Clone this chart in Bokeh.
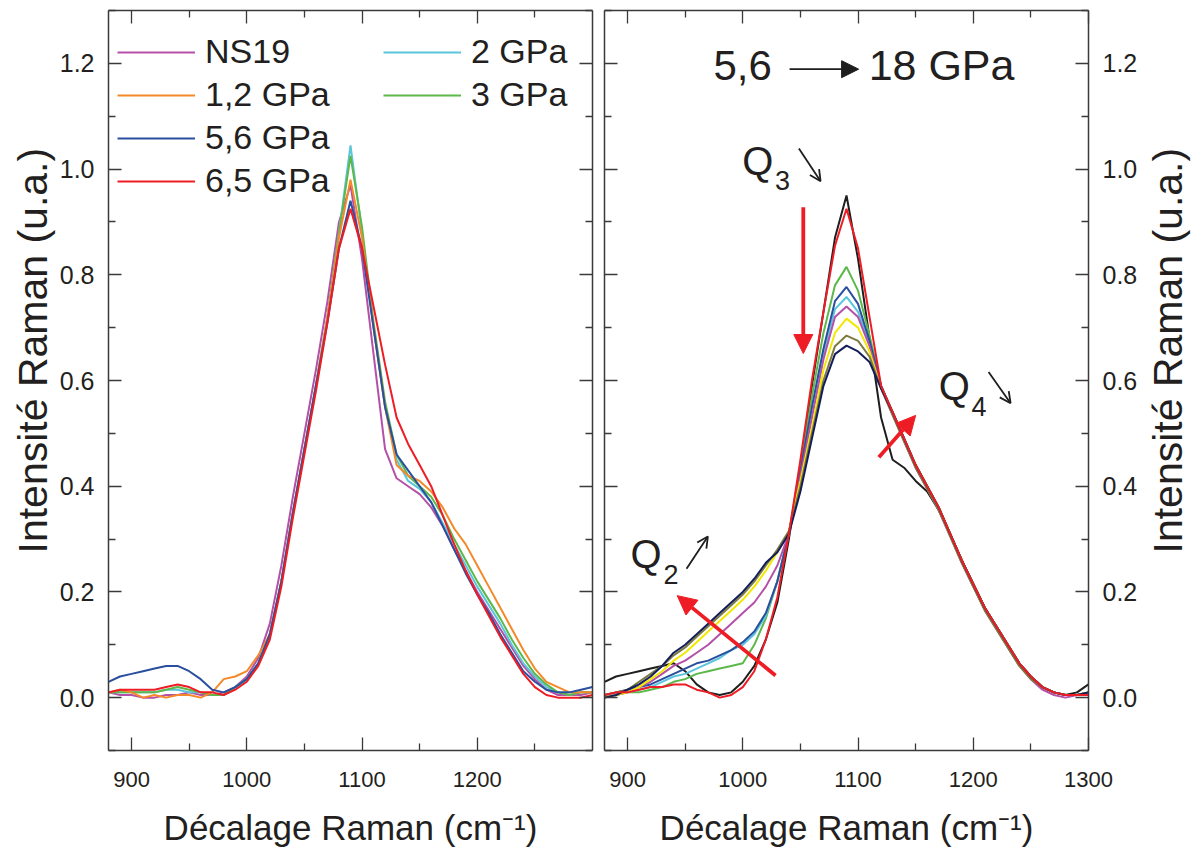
from bokeh.plotting import figure
from bokeh.layouts import row
from bokeh.models import (Range1d, FixedTicker, LinearAxis, Legend, LegendItem, Label, Title,
                          Arrow, NormalHead, OpenHead, PrintfTickFormatter, CustomLabelingPolicy)
from bokeh.embed import file_html
from bokeh.resources import INLINE

# ---------------- data ----------------
wavenumber = [880, 890, 900, 910, 920, 930, 940, 950, 960, 970,
              980, 990, 1000, 1010, 1020, 1030, 1040, 1050, 1060, 1070,
              1080, 1090, 1100, 1110, 1120, 1130, 1140, 1150, 1160, 1170,
              1180, 1190, 1200, 1210, 1220, 1230, 1240, 1250, 1260, 1270,
              1280, 1290, 1300]

# left panel
ns19 = [0.010, 0.005, 0.005, 0.000, 0.000, 0.005, 0.005, 0.010, 0.005, 0.005,
        0.010, 0.020, 0.040, 0.075, 0.140, 0.250, 0.380, 0.500, 0.620, 0.750,
        0.900, 0.970, 0.830, 0.650, 0.470, 0.415, 0.400, 0.385, 0.360, 0.325,
        0.280, 0.240, 0.200, 0.165, 0.130, 0.095, 0.060, 0.035, 0.015, 0.005,
        0.005, 0.005, 0.010]
gpa_1_2 = [0.010, 0.015, 0.010, 0.000, 0.005, 0.000, 0.005, 0.005, 0.000, 0.010,
           0.035, 0.040, 0.050, 0.080, 0.120, 0.220, 0.350, 0.470, 0.590, 0.720,
           0.870, 0.980, 0.870, 0.700, 0.550, 0.440, 0.420, 0.410, 0.390, 0.360,
           0.320, 0.290, 0.250, 0.210, 0.170, 0.130, 0.090, 0.055, 0.030, 0.020,
           0.010, 0.010, 0.010]
gpa_5_6 = [0.030, 0.040, 0.045, 0.050, 0.055, 0.060, 0.060, 0.050, 0.035, 0.015,
           0.010, 0.020, 0.035, 0.065, 0.120, 0.220, 0.350, 0.470, 0.590, 0.710,
           0.850, 0.940, 0.850, 0.700, 0.550, 0.460, 0.430, 0.400, 0.370, 0.325,
           0.280, 0.235, 0.195, 0.160, 0.120, 0.085, 0.050, 0.030, 0.015, 0.010,
           0.010, 0.015, 0.020]
gpa_6_5 = [0.010, 0.015, 0.015, 0.015, 0.015, 0.020, 0.025, 0.020, 0.010, 0.010,
           0.005, 0.015, 0.030, 0.060, 0.110, 0.210, 0.340, 0.460, 0.580, 0.710,
           0.850, 0.925, 0.850, 0.740, 0.630, 0.530, 0.480, 0.440, 0.400, 0.345,
           0.290, 0.240, 0.195, 0.155, 0.115, 0.080, 0.045, 0.020, 0.005, 0.000,
           0.000, 0.000, 0.005]
gpa_2 = [0.010, 0.010, 0.010, 0.010, 0.010, 0.015, 0.015, 0.010, 0.010, 0.005,
         0.005, 0.020, 0.035, 0.065, 0.120, 0.220, 0.350, 0.470, 0.590, 0.720,
         0.880, 1.045, 0.880, 0.700, 0.550, 0.450, 0.410, 0.395, 0.370, 0.330,
         0.290, 0.250, 0.210, 0.175, 0.140, 0.100, 0.065, 0.040, 0.020, 0.010,
         0.005, 0.010, 0.010]
gpa_3 = [0.010, 0.010, 0.010, 0.010, 0.010, 0.015, 0.020, 0.015, 0.010, 0.005,
         0.005, 0.020, 0.035, 0.065, 0.120, 0.220, 0.350, 0.470, 0.590, 0.720,
         0.880, 1.025, 0.890, 0.710, 0.560, 0.460, 0.420, 0.400, 0.380, 0.345,
         0.300, 0.260, 0.220, 0.185, 0.150, 0.110, 0.075, 0.045, 0.025, 0.010,
         0.005, 0.010, 0.010]

left_labels = ["NS19", "1,2 GPa", "5,6 GPa", "6,5 GPa", "2 GPa", "3 GPa"]

# right panel (5,6 -> 18 GPa series)
r_black = [0.030, 0.040, 0.045, 0.050, 0.055, 0.060, 0.065, 0.050, 0.025, 0.010,
           0.005, 0.010, 0.030, 0.060, 0.110, 0.180, 0.300, 0.440, 0.590, 0.730,
           0.870, 0.950, 0.830, 0.680, 0.530, 0.450, 0.435, 0.410, 0.390, 0.355,
           0.310, 0.260, 0.215, 0.170, 0.135, 0.100, 0.065, 0.040, 0.020, 0.010,
           0.005, 0.010, 0.025]
r_red = [0.005, 0.010, 0.010, 0.015, 0.020, 0.020, 0.025, 0.025, 0.015, 0.010,
         0.000, 0.005, 0.020, 0.050, 0.110, 0.190, 0.310, 0.450, 0.600, 0.730,
         0.855, 0.925, 0.850, 0.720, 0.590, 0.540, 0.490, 0.440, 0.400, 0.360,
         0.310, 0.260, 0.215, 0.170, 0.135, 0.100, 0.065, 0.040, 0.020, 0.010,
         0.005, 0.005, 0.005]
r_green = [0.000, 0.005, 0.010, 0.010, 0.015, 0.020, 0.030, 0.035, 0.045, 0.050,
           0.055, 0.060, 0.065, 0.100, 0.150, 0.220, 0.310, 0.440, 0.570, 0.690,
           0.780, 0.815, 0.770, 0.685, 0.590, 0.540, 0.490, 0.440, 0.400, 0.360,
           0.310, 0.260, 0.215, 0.170, 0.135, 0.100, 0.065, 0.040, 0.020, 0.010,
           0.005, 0.005, 0.010]
r_blue = [0.005, 0.010, 0.015, 0.020, 0.025, 0.035, 0.045, 0.055, 0.065, 0.070,
          0.080, 0.090, 0.105, 0.125, 0.160, 0.220, 0.310, 0.430, 0.550, 0.660,
          0.750, 0.777, 0.745, 0.675, 0.590, 0.540, 0.490, 0.440, 0.400, 0.360,
          0.310, 0.260, 0.215, 0.170, 0.135, 0.100, 0.065, 0.040, 0.020, 0.010,
          0.005, 0.005, 0.010]
r_cyan = [0.000, 0.005, 0.010, 0.015, 0.020, 0.030, 0.040, 0.045, 0.055, 0.065,
          0.075, 0.090, 0.100, 0.120, 0.155, 0.220, 0.310, 0.425, 0.540, 0.650,
          0.735, 0.758, 0.730, 0.670, 0.590, 0.540, 0.490, 0.440, 0.400, 0.360,
          0.310, 0.260, 0.215, 0.170, 0.135, 0.100, 0.065, 0.040, 0.020, 0.010,
          0.005, 0.005, 0.010]
r_magenta = [0.000, 0.005, 0.010, 0.020, 0.030, 0.045, 0.060, 0.070, 0.085, 0.100,
             0.120, 0.140, 0.160, 0.180, 0.210, 0.250, 0.310, 0.420, 0.530, 0.640,
             0.720, 0.740, 0.720, 0.665, 0.585, 0.535, 0.485, 0.435, 0.395, 0.355,
             0.305, 0.255, 0.210, 0.165, 0.130, 0.095, 0.060, 0.035, 0.015, 0.005,
             0.000, 0.005, 0.005]
r_yellow = [0.000, 0.005, 0.010, 0.020, 0.035, 0.050, 0.070, 0.085, 0.105, 0.125,
            0.145, 0.165, 0.185, 0.210, 0.240, 0.275, 0.315, 0.410, 0.510, 0.620,
            0.690, 0.717, 0.700, 0.655, 0.585, 0.540, 0.490, 0.440, 0.400, 0.360,
            0.310, 0.260, 0.215, 0.170, 0.135, 0.100, 0.065, 0.040, 0.020, 0.010,
            0.005, 0.005, 0.010]
r_olive = [0.005, 0.010, 0.015, 0.030, 0.045, 0.060, 0.080, 0.095, 0.115, 0.135,
           0.155, 0.175, 0.195, 0.220, 0.250, 0.280, 0.315, 0.400, 0.500, 0.600,
           0.665, 0.685, 0.675, 0.645, 0.585, 0.535, 0.485, 0.435, 0.395, 0.355,
           0.305, 0.255, 0.210, 0.165, 0.130, 0.095, 0.060, 0.035, 0.020, 0.010,
           0.005, 0.005, 0.010]
r_navy = [0.000, 0.005, 0.015, 0.025, 0.040, 0.060, 0.085, 0.100, 0.120, 0.140,
          0.160, 0.180, 0.200, 0.225, 0.255, 0.275, 0.310, 0.390, 0.490, 0.590,
          0.650, 0.666, 0.655, 0.635, 0.585, 0.540, 0.490, 0.440, 0.400, 0.360,
          0.310, 0.260, 0.215, 0.170, 0.135, 0.100, 0.065, 0.040, 0.020, 0.010,
          0.005, 0.005, 0.010]

y_ticks = [0.0, 0.2, 0.4, 0.6, 0.8, 1.0, 1.2]
y_minor = [-0.1, 0.1, 0.3, 0.5, 0.7, 0.9, 1.1, 1.3]
x_ticks_left = [900, 1000, 1100, 1200]
x_ticks_right = [900, 1000, 1100, 1200, 1300]
x_minor = [950, 1050, 1150, 1250]

Y_TITLE = "Intensité Raman (u.a.)"
X_TITLE = "Décalage Raman (cm⁻¹)"

# ---------------- styling ----------------
FONT = "Liberation Sans"
AX = "#3a3a3a"
TXT = "#231F20"
C_MAG = "#B550A8"
C_ORA = "#F5892A"
C_BLU = "#2A4F9E"
C_RED = "#EE1C24"
C_CYA = "#5BC5DC"
C_GRE = "#5DB84A"
C_BLK = "#1E1E1E"
C_YEL = "#F2E800"
C_OLI = "#7D7A40"
C_NAV = "#141D5C"
H = 853
TOP, BOTTOM = 10, 103


def hide_labels(ax):
    ax.major_label_text_font_size = "0px"
    ax.major_label_standoff = 0
    ax.major_label_policy = CustomLabelingPolicy(code="return []")


def style_axis(ax, labels=True):
    ax.major_tick_in = 13
    ax.major_tick_out = 0
    ax.minor_tick_in = 7
    ax.minor_tick_out = 0
    ax.axis_line_color = AX
    ax.axis_line_width = 1.5
    ax.major_tick_line_color = AX
    ax.major_tick_line_width = 1.3
    ax.minor_tick_line_color = AX
    ax.minor_tick_line_width = 1.3
    ax.major_label_text_font = FONT
    ax.major_label_text_color = TXT
    ax.axis_label_text_font = FONT
    ax.axis_label_text_font_style = "normal"
    ax.axis_label_text_color = TXT
    if not labels:
        hide_labels(ax)


def make_fig(width, left_border, right_border, yloc):
    p = figure(width=width, height=H, x_range=Range1d(880, 1300), y_range=Range1d(-0.1, 1.3),
               output_backend="svg", toolbar_location=None, y_axis_location=yloc,
               min_border_left=left_border, min_border_right=right_border,
               min_border_top=TOP, min_border_bottom=BOTTOM)
    p.xgrid.visible = False
    p.ygrid.visible = False
    p.outline_line_color = None
    p.background_fill_color = "white"
    return p


def title_strip(border_left):
    # narrow strip carrying only the vertical title (reads bottom to top)
    p = figure(width=border_left + 1, height=H, x_range=Range1d(0, 1), y_range=Range1d(0, 1),
               output_backend="svg", toolbar_location=None, x_axis_location=None,
               y_axis_location=None,
               min_border_left=border_left, min_border_right=0,
               min_border_top=TOP, min_border_bottom=BOTTOM)
    p.xgrid.visible = False
    p.ygrid.visible = False
    p.outline_line_color = None
    t = Title(text=Y_TITLE, align="left", offset=197, vertical_align="bottom", standoff=0,
              text_font=FONT, text_font_style="normal", text_font_size="41px", text_color=TXT)
    p.add_layout(t, "left")
    return p


def setup_axes(p, xticks, ylabel_side):
    xa = p.xaxis[0]
    xa.ticker = FixedTicker(ticks=xticks, minor_ticks=x_minor)
    style_axis(xa)
    xa.major_label_text_font_size = "22px"
    xa.major_label_standoff = 21
    xa.axis_label = X_TITLE
    xa.axis_label_text_font_size = "35px"
    xa.axis_label_standoff = 18

    ya = p.yaxis[0]
    ya.ticker = FixedTicker(ticks=y_ticks, minor_ticks=y_minor)
    ya.formatter = PrintfTickFormatter(format="%.1f")
    style_axis(ya)
    ya.major_label_text_font_size = "25px"
    ya.major_label_standoff = 14

    top = LinearAxis(ticker=FixedTicker(ticks=xticks, minor_ticks=x_minor))
    style_axis(top, labels=False)
    p.add_layout(top, "above")
    other = LinearAxis(ticker=FixedTicker(ticks=y_ticks, minor_ticks=y_minor))
    style_axis(other, labels=False)
    p.add_layout(other, "right" if ylabel_side == "left" else "left")


# ---------------- title strips ----------------
p0 = title_strip(55)     # left title
p3 = title_strip(50)     # right title

# ---------------- left panel ----------------
p1 = make_fig(52 + 484 + 6, 52, 6, "left")
setup_axes(p1, x_ticks_left, "left")

left_series = [ns19, gpa_1_2, gpa_5_6, gpa_6_5, gpa_2, gpa_3]
left_colors = [C_MAG, C_ORA, C_BLU, C_RED, C_CYA, C_GRE]
draw_order = [0, 4, 5, 1, 2, 3]
renderers = {}
for i in draw_order:
    renderers[i] = p1.line(wavenumber, left_series[i], line_color=left_colors[i], line_width=2)


def make_legend(idx, loc):
    lg = Legend(items=[LegendItem(label=left_labels[i], renderers=[renderers[i]]) for i in idx],
                location=loc)
    lg.label_text_font = FONT
    lg.label_text_font_size = "34px"
    lg.label_text_color = TXT
    lg.glyph_width = 78
    lg.glyph_height = 36
    lg.label_height = 36
    lg.label_standoff = 10
    lg.spacing = 4
    lg.padding = 0
    lg.margin = 0
    lg.border_line_color = None
    lg.background_fill_alpha = 0
    return lg


p1.add_layout(make_legend([0, 1, 2, 3], (9, 550)), "center")
p1.add_layout(make_legend([4, 5], (275, 636)), "center")

# ---------------- right panel ----------------
p2 = make_fig(6 + 484 + 52, 6, 52, "right")
setup_axes(p2, x_ticks_right, "right")

right_series = [r_black, r_green, r_cyan, r_blue, r_magenta, r_yellow, r_olive, r_navy, r_red]
right_colors = [C_BLK, C_GRE, C_CYA, C_BLU, C_MAG, C_YEL, C_OLI, C_NAV, C_RED]
for ys, c in zip(right_series, right_colors):
    p2.line(wavenumber, ys, line_color=c, line_width=2)

# ---------------- annotations ----------------
PX = 1.4 / 740.0  # data units per pixel (vertical)


def lab(p, x, y, t, size):
    # Bokeh draws the alphabetic baseline ~0.4 em lower than asked; compensate
    p.add_layout(Label(x=x, y=y + 0.42 * size * PX, text=t, text_font=FONT,
                       text_font_size=f"{size}px", text_color=TXT,
                       text_baseline="alphabetic", text_align="left"))


lab(p2, 974.6, 1.162, "5,6", 42)
lab(p2, 1109.2, 1.162, "18 GPa", 43)
p2.add_layout(Arrow(end=NormalHead(size=17, fill_color=C_BLK, line_color=C_BLK),
                    x_start=1040.6, y_start=1.189, x_end=1100.5, y_end=1.189,
                    line_color=C_BLK, line_width=1.6))

for (qx, qy, sub) in [(999.5, 0.984, "3"), (1170.0, 0.558, "4"), (902.6, 0.240, "2")]:
    lab(p2, qx, qy, "Q", 40)
    lab(p2, qx + 28.5, qy - 0.028, sub, 27)

for (xs, ys, xe, ye) in [(1048.7, 1.039, 1067.5, 0.977), (1213.3, 0.616, 1232.4, 0.557),
                         (951.2, 0.244, 969.7, 0.305)]:
    p2.add_layout(Arrow(end=OpenHead(size=11, line_color=C_BLK, line_width=1.8),
                        x_start=xs, y_start=ys, x_end=xe, y_end=ye,
                        line_color=C_BLK, line_width=1.8))

for (xs, ys, xe, ye) in [(1052.5, 0.928, 1052.5, 0.651), (1118.1, 0.455, 1150.0, 0.534),
                         (1028.4, 0.042, 943.1, 0.193)]:
    p2.add_layout(Arrow(end=NormalHead(size=19, fill_color=C_RED, line_color=C_RED),
                        x_start=xs, y_start=ys, x_end=xe, y_end=ye,
                        line_color=C_RED, line_width=3.8))

layout = row(p0, p1, p2, p3)
open("out.html", "w").write(file_html(layout, INLINE))
